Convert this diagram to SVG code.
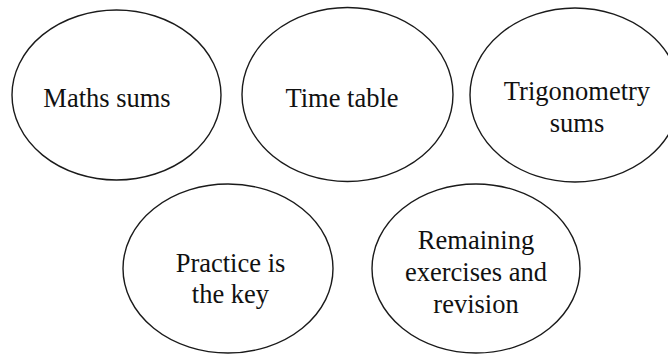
<svg xmlns="http://www.w3.org/2000/svg" width="668" height="355" viewBox="0 0 668 355">
<style>
.n ellipse{fill:#fff;stroke:#1a1a1a;stroke-width:1.4}
.n text{font-family:'Liberation Serif',serif;font-size:26.5px;fill:#111;text-anchor:middle}
</style>
<rect width="668" height="355" fill="#fff"/>
<g id="connectors"></g>
<g id="maths" class="n"><ellipse cx="116.5" cy="95" rx="104.5" ry="85"/><text x="107" y="107">Maths sums</text></g>
<g id="timetable" class="n"><ellipse cx="347.5" cy="94.5" rx="105.5" ry="87"/><text x="342" y="107">Time table</text></g>
<g id="trig" class="n"><ellipse cx="575" cy="95" rx="105" ry="87"/><text x="577" y="100">Trigonometry</text><text x="577" y="132">sums</text></g>
<g id="practice" class="n"><ellipse cx="228" cy="268.5" rx="105" ry="84.5"/><text x="230.5" y="271.5">Practice is</text><text x="230.5" y="303">the key</text></g>
<g id="remaining" class="n"><ellipse cx="476" cy="268.5" rx="104" ry="84.5"/><text x="476" y="249">Remaining</text><text x="476" y="281">exercises and</text><text x="476" y="313">revision</text></g>
</svg>
